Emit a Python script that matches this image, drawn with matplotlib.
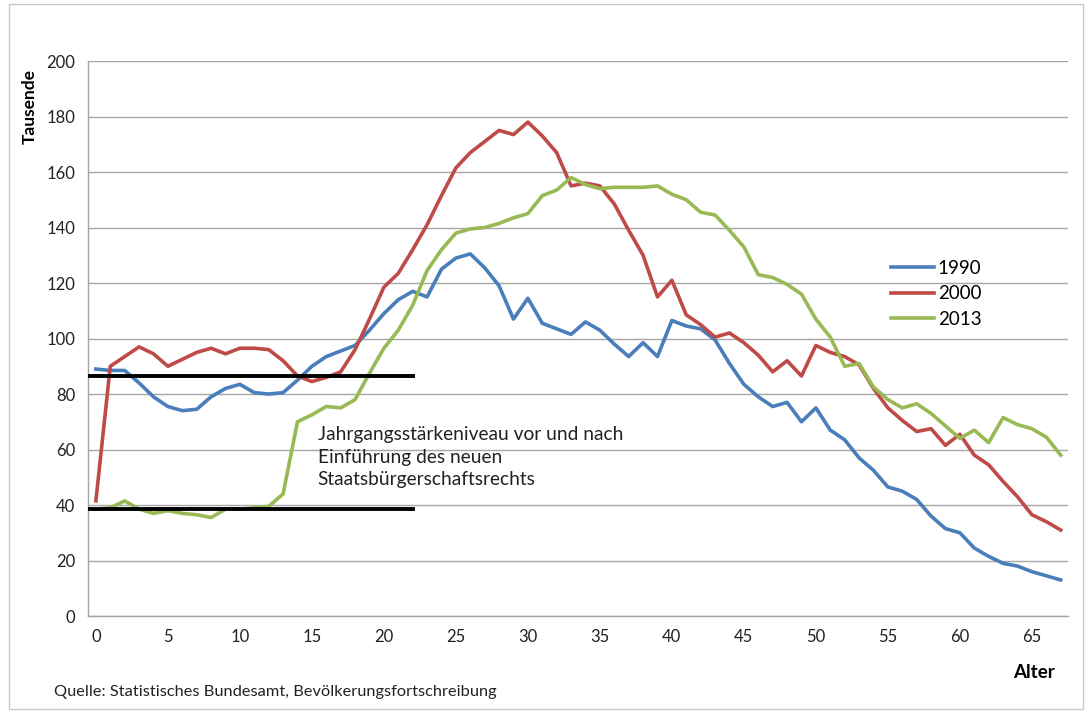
import numpy as np
import matplotlib
matplotlib.use("Agg")
import matplotlib.pyplot as plt
from matplotlib.patches import Rectangle

# Bevoelkerung nach Alter (Tausende)
alter = list(range(68))

y1990 = [89, 88.5, 88.5, 84, 79, 75.5, 74, 74.5, 79, 82,
         83.5, 80.5, 80, 80.5, 85, 90, 93.5, 95.5, 97.5, 103,
         109, 114, 117, 115, 125, 129, 130.5, 125.5, 119, 107,
         114.5, 105.5, 103.5, 101.5, 106, 103, 98, 93.5, 98.5, 93.5,
         106.5, 104.5, 103.5, 99.5, 91, 83.5, 79, 75.5, 77, 70,
         75, 67, 63.5, 57, 52.5, 46.5, 45, 42, 36, 31.5,
         30, 24.5, 21.5, 19, 18, 16, 14.5, 13]

y2000 = [41.5, 90, 93.5, 97, 94.5, 90, 92.5, 95, 96.5, 94.5,
         96.5, 96.5, 96, 92, 86.5, 84.5, 86, 88, 96, 107,
         118.5, 123.5, 132, 141, 151.5, 161.5, 167, 171, 175, 173.5,
         178, 173, 167, 155, 156, 155, 148.5, 139, 130, 115,
         121, 108.5, 105, 100.5, 102, 98.5, 94, 88, 92, 86.5,
         97.5, 95, 93.5, 90.5, 82, 75, 70.5, 66.5, 67.5, 61.5,
         65.5, 58, 54.5, 48.5, 43, 36.5, 34, 31]

y2013 = [38.5, 39, 41.5, 38.5, 37, 38, 37, 36.5, 35.5, 38.5,
         38.5, 39, 39.5, 44, 70, 72.5, 75.5, 75, 78, 87.5,
         96.5, 103, 112, 124.5, 132, 138, 139.5, 140, 141.5, 143.5,
         145, 151.5, 153.5, 158, 155.5, 154, 154.5, 154.5, 154.5, 155,
         152, 150, 145.5, 144.5, 139, 133, 123, 122, 119.5, 116,
         107, 100.5, 90, 91, 82.5, 78, 75, 76.5, 73, 68.5,
         64, 67, 62.5, 71.5, 69, 67.5, 64.5, 58]

serien = [("1990", y1990, "#4a7ebb"),
          ("2000", y2000, "#be4b48"),
          ("2013", y2013, "#98b954")]

# Jahrgangsstaerkeniveau vor / nach
niveau_alter = [-0.5, 22]
niveau_vor = 86.5
niveau_nach = 38.5

fig = plt.figure(figsize=(10.9, 7.13), dpi=100)
ax = fig.add_axes([0.0807, 0.136, 0.899, 0.7784])

for name, werte, farbe in serien:
    ax.plot(alter, werte, color=farbe, lw=2.6, label=name,
            solid_joinstyle="round", zorder=3)

ax.plot(niveau_alter, [niveau_vor, niveau_vor], color="black", lw=2.8, zorder=4)
ax.plot(niveau_alter, [niveau_nach, niveau_nach], color="black", lw=2.8, zorder=4)

ax.set_xlim(-0.55, 67.5)
ax.set_ylim(0, 200)
ax.set_xticks(range(0, 66, 5))
ax.set_yticks(range(0, 201, 20))
ax.grid(axis="y", color="#a6a6a6", lw=1)
ax.set_axisbelow(True)
ax.tick_params(length=0, labelsize=12, colors="#222222", pad=9)
for lab in ax.get_xticklabels() + ax.get_yticklabels():
    lab.set_family("Lato")
for s in ["top", "right"]:
    ax.spines[s].set_visible(False)
for s in ["left", "bottom"]:
    ax.spines[s].set_color("#a6a6a6")
    ax.spines[s].set_linewidth(1)

ax.legend(loc="upper left", bbox_to_anchor=(0.802, 0.659), frameon=False,
          handlelength=2.3, handletextpad=0.2, labelspacing=0.45,
          prop={"family": "Lato", "size": 13.5}, bbox_transform=fig.transFigure)

ax.text(15.4, 68.5, "Jahrgangsstärkeniveau vor und nach\nEinführung des neuen\nStaatsbürgerschaftsrechts",
        family="Lato", fontsize=13.8, linespacing=1.4, va="top", color="#222222")

fig.text(0.0275, 0.85, "Tausende", rotation=90, ha="center", va="center",
         family="Lato", fontsize=12.5, fontweight="bold")
fig.text(0.968, 0.057, "Alter", ha="right", va="center",
         family="Lato", fontsize=13.5, fontweight="bold")
fig.text(0.05, 0.03, "Quelle: Statistisches Bundesamt, Bevölkerungsfortschreibung",
         ha="left", va="center", family="Lato", fontsize=11.8, color="#222222")

fig.patches.append(Rectangle((0.008, 0.006), 0.986, 0.988, transform=fig.transFigure,
                             fill=False, edgecolor="#c8c8c8", lw=1))

fig.savefig("out.png", dpi=100)
